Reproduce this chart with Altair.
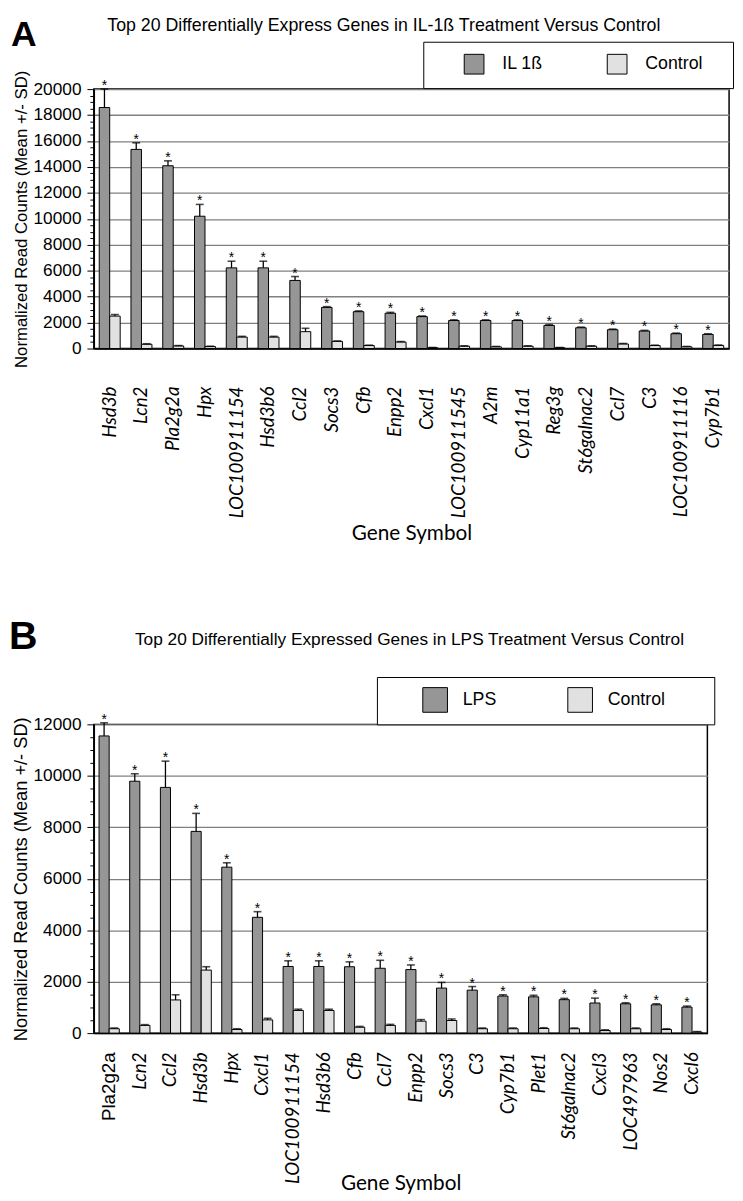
import altair as alt
import pandas as pd

# ---------------- Panel A data ----------------
genes_a = ["Hsd3b", "Lcn2", "Pla2g2a", "Hpx", "LOC100911154", "Hsd3b6", "Ccl2", "Socs3",
           "Cfb", "Enpp2", "Cxcl1", "LOC100911545", "A2m", "Cyp11a1", "Reg3g",
           "St6galnac2", "Ccl7", "C3", "LOC100911116", "Cyp7b1"]
il1b_mean = [18580, 15350, 14090, 10200, 6220, 6220, 5250, 3170, 2840, 2720, 2460, 2160,
             2160, 2160, 1780, 1600, 1450, 1350, 1140, 1090]
il1b_sd = [1420, 510, 380, 910, 510, 510, 300, 60, 60, 70, 50, 50, 50, 50, 70, 50, 50, 50, 50, 50]
ctrl_a_mean = [2500, 330, 200, 150, 880, 880, 1300, 550, 230, 500, 60, 180, 130, 180, 60,
               180, 350, 230, 130, 240]
ctrl_a_sd = [120, 40, 30, 30, 60, 60, 260, 40, 30, 40, 20, 30, 30, 30, 20, 30, 40, 30, 30, 30]

# ---------------- Panel B data ----------------
genes_b = ["Pla2g2a", "Lcn2", "Ccl2", "Hsd3b", "Hpx", "Cxcl1", "LOC100911154", "Hsd3b6",
           "Cfb", "Ccl7", "Enpp2", "Socs3", "C3", "Cyp7b1", "Plet1", "St6galnac2", "Cxcl3",
           "LOC497963", "Nos2", "Cxcl6"]
lps_mean = [11550, 9790, 9550, 7840, 6450, 4500, 2590, 2590, 2580, 2520, 2470, 1750, 1670,
            1440, 1410, 1300, 1170, 1140, 1100, 1010]
lps_sd = [510, 290, 1020, 700, 170, 220, 220, 220, 190, 310, 180, 220, 140, 50, 60, 50, 190,
          40, 40, 40]
ctrl_b_mean = [170, 300, 1290, 2450, 140, 515, 880, 880, 230, 300, 465, 490, 170, 170, 180,
               170, 100, 170, 140, 40]
ctrl_b_sd = [30, 30, 200, 130, 30, 60, 50, 50, 30, 40, 60, 60, 30, 30, 30, 30, 30, 30, 30, 20]

TITLE_A = "Top 20 Differentially Express Genes in IL-1\u00df Treatment Versus Control"
TITLE_B = "Top 20 Differentially Expressed Genes in LPS Treatment Versus Control"
Y_TITLE = "Normalized Read Counts (Mean +/- SD)"
X_TITLE = "Gene Symbol"

TREAT_COLOR = "#969696"
CTRL_COLOR = "#e1e1e1"
BLANK = "\u2800"
NBSP = "\u00a0"


def make_df(genes, treat, tmean, tsd, cmean, csd):
    rows = []
    for g, m, s in zip(genes, tmean, tsd):
        rows.append({"gene": g, "group": treat, "mean": m, "top": m + s, "star": "*"})
    for g, m, s in zip(genes, cmean, csd):
        rows.append({"gene": g, "group": "Control", "mean": m, "top": m + s, "star": ""})
    return pd.DataFrame(rows)


def panel(df, genes, treat, ymax, width, height, title, title_size, title_dx, title_dy,
          letter, letter_size, letter_x, letter_y, legend_x, legend_y, sym, lab_off, col_pad,
          pad, title_pad, ctrl_fill, x_lab_pad, x_title_y, y_title_size, normal_label):
    major = "datum.value % 2000 === 0"
    is_normal = "datum.value === '%s'" % normal_label
    x = alt.X("gene:N", sort=genes,
              scale=alt.Scale(paddingInner=0.34, paddingOuter=0.17),
              axis=alt.Axis(title=X_TITLE, labelAngle=-90, labelAlign="right",
                            labelBaseline="middle",
                            labelFont={"condition": {"test": is_normal, "value": "Liberation Sans"},
                                       "value": "Lato"},
                            labelFontSize=19,
                            labelFontStyle={"condition": {"test": is_normal, "value": "normal"},
                                            "value": "italic"},
                            labelPadding=x_lab_pad, ticks=False, labelColor="black",
                            domainColor="black", domainWidth=1.5, titleFont="Lato",
                            titleFontSize=21, titleFontWeight="normal", titleColor="black",
                            titleY=x_title_y, titleBaseline="alphabetic", labelLimit=300))
    xo = alt.XOffset("group:N", sort=[treat, "Control"],
                     scale=alt.Scale(paddingInner=0, paddingOuter=0))
    yaxis = alt.Axis(values=list(range(0, ymax + 1, 500)),
                     labelExpr="datum.value % 2000 === 0 ? format(datum.value, 'd') : ''",
                     tickSize={"condition": {"test": major, "value": 7}, "value": 4},
                     gridOpacity={"condition": {"test": major, "value": 1}, "value": 0},
                     grid=True, gridColor="#808080", gridWidth=1.3,
                     tickColor="black", domainColor="black", domainWidth=1.5,
                     labelFont="Liberation Sans", labelFontSize=17.5, labelColor="black",
                     labelPadding=6, labelOverlap=False, title=Y_TITLE,
                     titleFont="Liberation Sans", titleFontSize=y_title_size,
                     titleFontWeight="normal", titleColor="black", titlePadding=3)
    yscale = alt.Scale(domain=[0, ymax], nice=False)
    y_mean = alt.Y("mean:Q", scale=yscale, axis=yaxis)
    y_top = alt.Y("top:Q", scale=yscale, axis=yaxis)

    label_expr = ("datum.label + (datum.label == 'Control' ? '" + ctrl_fill + "' : '')")
    color = alt.Color("group:N", sort=[treat, "Control"],
                      scale=alt.Scale(domain=[treat, "Control"], range=[TREAT_COLOR, CTRL_COLOR]),
                      legend=alt.Legend(orient="none", legendX=legend_x, legendY=legend_y,
                                        direction="horizontal", title=" ", titleOrient="left",
                                        titlePadding=title_pad, titleFontSize=18,
                                        symbolType="square", symbolSize=sym * sym,
                                        symbolStrokeColor="black", symbolStrokeWidth=1,
                                        labelFont="Liberation Sans", labelFontSize=18,
                                        labelColor="black", labelOffset=lab_off,
                                        columnPadding=col_pad, padding=pad,
                                        strokeColor="black",
                                        fillColor="white", labelExpr=label_expr,
                                        labelLimit=400))

    base = alt.Chart(df)
    bars = base.mark_bar(stroke="black", strokeWidth=1).encode(
        x=x, xOffset=xo, y=y_mean, color=color)
    err = base.mark_rule(color="black", strokeWidth=1.3).encode(
        x=x, xOffset=xo, y=y_mean, y2="top:Q")
    caps = base.mark_tick(color="black", thickness=1.6, size=8).encode(
        x=x, xOffset=xo, y=y_top)
    stars = base.transform_filter(alt.datum.group == treat).mark_text(
        font="Liberation Sans", fontSize=14, baseline="alphabetic", dy=1, color="black"
    ).encode(x=x, xOffset=xo, y=y_top, text="star:N")
    let = alt.Chart(pd.DataFrame({"t": [letter]})).mark_text(
        align="left", baseline="alphabetic", font="Liberation Sans", fontWeight="bold",
        fontSize=letter_size, color="black"
    ).encode(text="t:N", x=alt.value(letter_x), y=alt.value(letter_y))

    return alt.layer(bars, err, caps, stars, let).properties(
        width=width, height=height,
        title=alt.TitleParams(title, font="Liberation Sans", fontSize=title_size,
                              fontWeight="normal", color="black", anchor="middle",
                              frame="group", dx=title_dx, dy=title_dy, offset=0,
                              baseline="alphabetic"))


df_a = make_df(genes_a, "IL 1\u00df", il1b_mean, il1b_sd, ctrl_a_mean, ctrl_a_sd)
df_b = make_df(genes_b, "LPS", lps_mean, lps_sd, ctrl_b_mean, ctrl_b_sd)

pa = panel(df_a, genes_a, "IL 1\u00df", 20000, 644, 263, TITLE_A, 18, -28, 32,
           "A", 36, -84, -44,
           334, -48, 20, 18, 62, 12, 29, NBSP + BLANK, 38, 194, 17, "none")
pb = panel(df_b, genes_b, "LPS", 12000, 622, 313, TITLE_B, 17.5, 9, 45,
           "B", 40, -86, -76,
           287, -48, 25, 15, 69, 10, 36, BLANK * 3, 19, 159, 18.5, "Pla2g2a")

chart = alt.vconcat(pa, pb, spacing=73).resolve_scale(
    x="independent", y="independent", color="independent", xOffset="independent"
).resolve_legend(color="independent").properties(padding=0).configure_view(
    stroke="black", strokeWidth=1.5
)

chart.save("out.html", embed_options={"renderer": "svg", "actions": False})
